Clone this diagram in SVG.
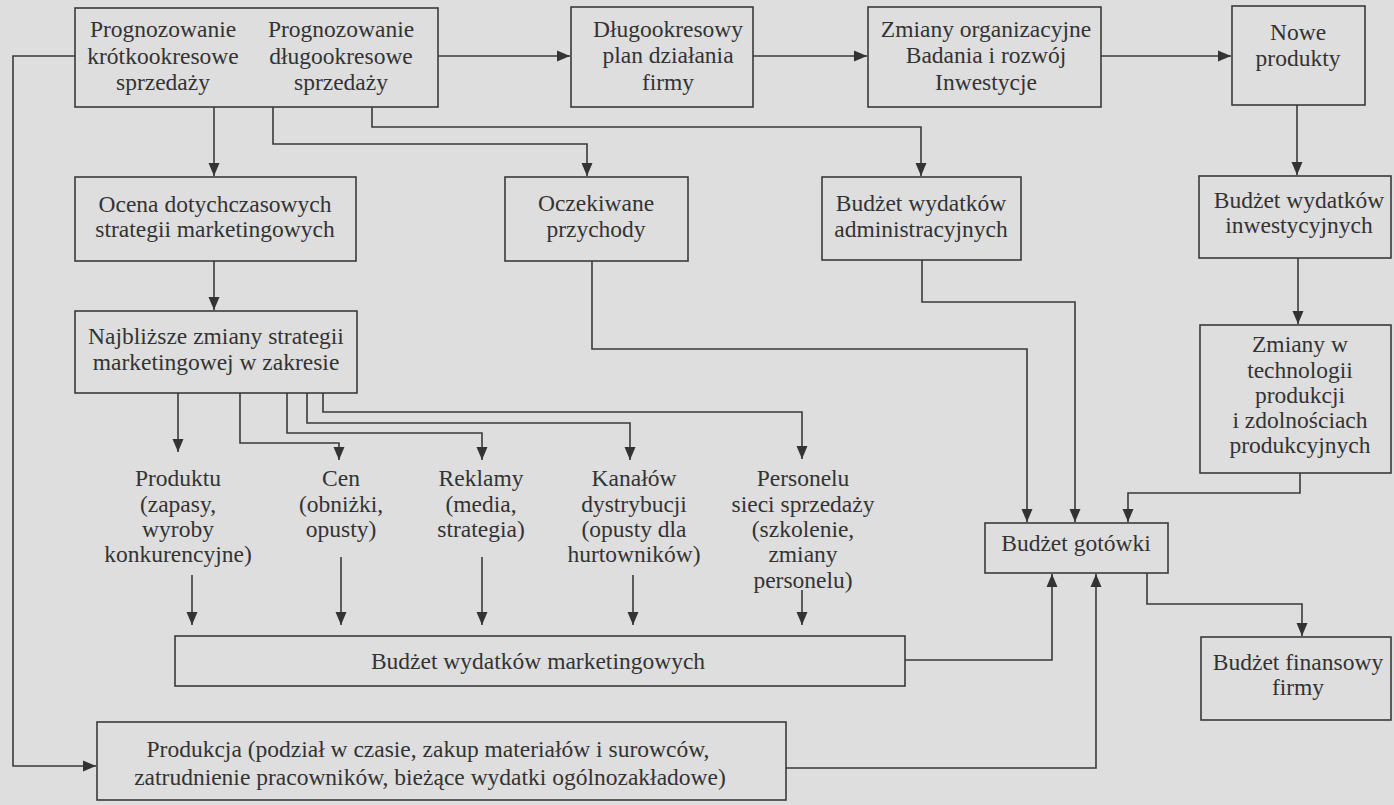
<svg xmlns="http://www.w3.org/2000/svg" width="1394" height="805" viewBox="0 0 1394 805">
<defs>
<style>
.bx{fill:none;stroke:#3a3a3a;stroke-width:1.6}
.ln{fill:none;stroke:#3a3a3a;stroke-width:1.6}
.ar{marker-end:url(#ah)}
text{font-family:"Liberation Serif","Times New Roman",serif;font-size:23.5px;fill:#333;text-anchor:middle}
.sm{font-size:23.5px}
</style>
<marker id="ah" markerWidth="14" markerHeight="12" refX="13" refY="6" orient="auto" markerUnits="userSpaceOnUse"><path d="M0,0.5 L13,6 L0,11.5 z" fill="#333"/></marker>
</defs>
<rect width="1394" height="805" fill="#dedede"/>

<g id="connectors">
<path class="ln ar" d="M75,56 H13 V766 H96"/>
<path class="ln ar" d="M438,56 H570"/>
<path class="ln ar" d="M753,56 H867"/>
<path class="ln ar" d="M1101,56 H1231"/>
<path class="ln ar" d="M1297,105 V175"/>
<path class="ln ar" d="M1298,258 V324"/>
<path class="ln ar" d="M214,107 V176"/>
<path class="ln ar" d="M273,107 V144 H587 V176"/>
<path class="ln ar" d="M372,107 V127 H921 V176"/>
<path class="ln ar" d="M214,261 V310"/>
<path class="ln ar" d="M592,261 V349 H1027 V522"/>
<path class="ln ar" d="M922,260 V302 H1075 V522"/>
<path class="ln ar" d="M1300,473 V493 H1128 V522"/>
<path class="ln ar" d="M1147,573 V604 H1302 V636"/>
<path class="ln ar" d="M905,660 H1052 V574"/>
<path class="ln ar" d="M786,768 H1096 V574"/>
<path class="ln ar" d="M178,393 V452"/>
<path class="ln ar" d="M240,393 V443 H339 V460"/>
<path class="ln ar" d="M287,393 V433 H482 V460"/>
<path class="ln ar" d="M307,393 V423 H630 V460"/>
<path class="ln ar" d="M323,393 V412 H802 V459"/>
<path class="ln ar" d="M192,575 V625"/>
<path class="ln ar" d="M341,557 V625"/>
<path class="ln ar" d="M482,557 V625"/>
<path class="ln ar" d="M633,575 V625"/>
<path class="ln ar" d="M802,590 V625"/>
</g>

<g id="prognozowanie">
<rect class="bx" x="75" y="8" width="363" height="99"/>
<text x="163" y="37">Prognozowanie</text>
<text x="163" y="64">krótkookresowe</text>
<text x="163" y="90">sprzedaży</text>
<text x="341" y="37">Prognozowanie</text>
<text x="341" y="64">długookresowe</text>
<text x="341" y="90">sprzedaży</text>
</g>

<g id="plan">
<rect class="bx" x="571" y="7" width="182" height="100"/>
<text x="668" y="37">Długookresowy</text>
<text x="668" y="63">plan działania</text>
<text x="668" y="90">firmy</text>
</g>

<g id="zmiany-org">
<rect class="bx" x="868" y="7" width="233" height="100"/>
<text x="986" y="37">Zmiany organizacyjne</text>
<text x="986" y="63">Badania i rozwój</text>
<text x="986" y="90">Inwestycje</text>
</g>

<g id="nowe">
<rect class="bx" x="1232" y="6" width="133" height="99"/>
<text x="1298" y="40">Nowe</text>
<text x="1298" y="66">produkty</text>
</g>

<g id="ocena">
<rect class="bx" x="75" y="177" width="281" height="84"/>
<text x="215" y="212">Ocena dotychczasowych</text>
<text x="215" y="237">strategii marketingowych</text>
</g>

<g id="oczekiwane">
<rect class="bx" x="505" y="177" width="183" height="84"/>
<text x="596" y="211">Oczekiwane</text>
<text x="596" y="237">przychody</text>
</g>

<g id="admin">
<rect class="bx" x="822" y="177" width="199" height="83"/>
<text x="921" y="211">Budżet wydatków</text>
<text x="921" y="237">administracyjnych</text>
</g>

<g id="inwest">
<rect class="bx" x="1199" y="176" width="192" height="82"/>
<text x="1299" y="208">Budżet wydatków</text>
<text x="1299" y="233">inwestycyjnych</text>
</g>

<g id="najblizsze">
<rect class="bx" x="75" y="311" width="282" height="82"/>
<text x="216" y="344">Najbliższe zmiany strategii</text>
<text x="216" y="370">marketingowej w zakresie</text>
</g>

<g id="technologia">
<rect class="bx" x="1200" y="325" width="191" height="148"/>
<text x="1300" y="352">Zmiany w</text>
<text x="1300" y="378">technologii</text>
<text x="1300" y="403">produkcji</text>
<text x="1300" y="428">i zdolnościach</text>
<text x="1300" y="453">produkcyjnych</text>
</g>

<g id="produktu">
<text x="178" y="486">Produktu</text>
<text x="178" y="512">(zapasy,</text>
<text x="178" y="537">wyroby</text>
<text x="178" y="562">konkurencyjne)</text>
</g>

<g id="cen">
<text x="341" y="486">Cen</text>
<text x="341" y="512">(obniżki,</text>
<text x="341" y="537">opusty)</text>
</g>

<g id="reklamy">
<text x="481" y="486">Reklamy</text>
<text x="481" y="512">(media,</text>
<text x="481" y="537">strategia)</text>
</g>

<g id="kanaly">
<text x="634" y="486">Kanałów</text>
<text x="634" y="512">dystrybucji</text>
<text x="634" y="537">(opusty dla</text>
<text x="634" y="562">hurtowników)</text>
</g>

<g id="personel">
<text x="803" y="486">Personelu</text>
<text x="803" y="512">sieci sprzedaży</text>
<text x="803" y="537">(szkolenie,</text>
<text x="803" y="562">zmiany</text>
<text x="803" y="588">personelu)</text>
</g>

<g id="gotowka">
<rect class="bx" x="985" y="523" width="183" height="50"/>
<text x="1076" y="551">Budżet gotówki</text>
</g>

<g id="finansowy">
<rect class="bx" x="1201" y="637" width="190" height="83"/>
<text x="1298" y="670">Budżet finansowy</text>
<text x="1298" y="695">firmy</text>
</g>

<g id="marketing">
<rect class="bx" x="175" y="636" width="730" height="50"/>
<text class="sm" x="538" y="669">Budżet wydatków marketingowych</text>
</g>

<g id="produkcja">
<rect class="bx" x="97" y="722" width="689" height="78"/>
<text class="sm" x="428" y="757">Produkcja (podział w czasie, zakup materiałów i surowców,</text>
<text class="sm" x="430" y="785">zatrudnienie pracowników, bieżące wydatki ogólnozakładowe)</text>
</g>
</svg>
